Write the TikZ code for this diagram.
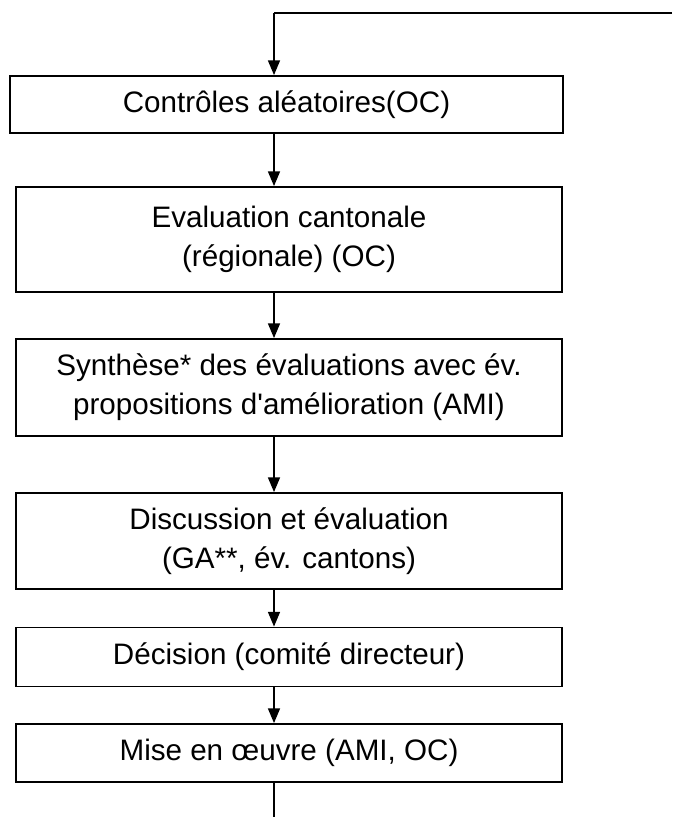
\documentclass[tikz,border=0pt]{standalone}
\usepackage{fontspec}
\setmainfont{Liberation Sans}
\usetikzlibrary{arrows.meta}

\tikzset{
  boite/.style={draw, line width=1.4pt, inner sep=0pt, align=center,
    minimum width=409.5pt, font=\fontsize{22.2}{29}\selectfont},
  fleche/.style={-{Triangle[width=9pt,length=11pt]}, line width=1pt}
}

\begin{document}
\begin{tikzpicture}[x=0.75pt,y=-0.75pt]
    \useasboundingbox (0,0) rectangle (672,817);

    \coordinate (retour) at (274,13);
    \coordinate (bord) at (672,13);
    \coordinate (fin) at (274,817);

    \node[boite, minimum width=414.75pt, minimum height=42.75pt] (ctrl) at (286.5,104.5) {Contrôles aléatoires(OC)};
    \node[boite, minimum height=78.75pt] (evalc) at (289,239.5) {Evaluation cantonale\\(régionale) (OC)};
    \node[boite, minimum height=72.75pt] (synth) at (289,387.5) {Synthèse* des évaluations avec év.\\propositions d\textquotesingle amélioration (AMI)};
    \node[boite, minimum height=72pt] (disc) at (289,541) {Discussion et évaluation\\(GA**, év. cantons)};
    \node[boite, minimum height=44.25pt] (decis) at (289,657) {Décision (comité directeur)};
    \node[boite, minimum height=43.5pt] (mise) at (289,753) {Mise en œuvre (AMI, OC)};

    \draw [line width=1pt] (bord) -- (retour);
    \draw [fleche] (retour) -- (ctrl.north -| retour);
    \draw [fleche] (ctrl.south -| retour) -- (evalc.north -| retour);
    \draw [fleche] (evalc.south -| retour) -- (synth.north -| retour);
    \draw [fleche] (synth.south -| retour) -- (disc.north -| retour);
    \draw [fleche] (disc.south -| retour) -- (decis.north -| retour);
    \draw [fleche] (decis.south -| retour) -- (mise.north -| retour);
    \draw [line width=1pt] (mise.south -| retour) -- (fin);

\end{tikzpicture}
\end{document}
